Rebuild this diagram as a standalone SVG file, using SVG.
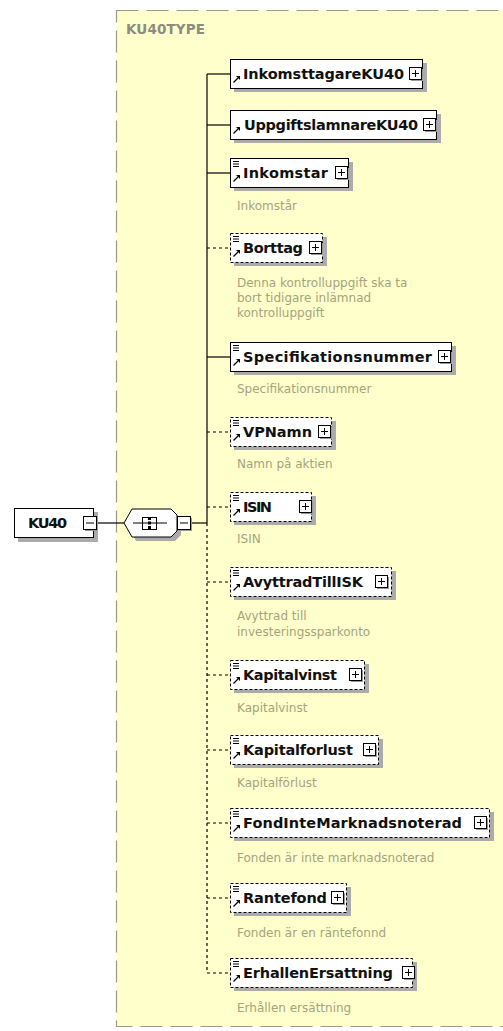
<svg xmlns="http://www.w3.org/2000/svg" xmlns:xlink="http://www.w3.org/1999/xlink" width="503" height="1031" viewBox="0 0 503 1031">
<style>
.bg{fill:#ffffff}
.cont{fill:#ffffcc;stroke:#9a9a90;stroke-width:1.2;stroke-dasharray:22,8}
.ctitle{font-family:"DejaVu Sans",sans-serif;font-weight:bold;font-size:13.5px;fill:#8c8c80}
.sh{fill:#ababab}
.box{fill:#ffffff;stroke:#000;stroke-width:1}
.opt{stroke-dasharray:3,2}
.name{font-family:"DejaVu Sans",sans-serif;font-weight:bold;font-size:14.5px;fill:#111}
.desc{font-family:"DejaVu Sans",sans-serif;font-size:12px;fill:#a4a47c}
.ln{stroke:#000;stroke-width:1.2;fill:none}
.dl{stroke:#000;stroke-width:1.2;fill:none;stroke-dasharray:3,3}
</style>
<defs>
<g id="plus">
<rect x="2" y="2" width="12" height="12" fill="#9a9a9a"/>
<rect x="0.5" y="0.5" width="12" height="12" fill="#fff" stroke="#000"/>
<line x1="3" y1="6.5" x2="10" y2="6.5" stroke="#000"/>
<line x1="6.5" y1="3" x2="6.5" y2="10" stroke="#000"/>
</g>
<g id="minus">
<rect x="2" y="2" width="13" height="13" fill="#9a9a9a"/>
<rect x="0.5" y="0.5" width="13" height="13" fill="#fff" stroke="#000"/>
<line x1="3" y1="7" x2="11" y2="7" stroke="#000"/>
</g>
<g id="eq" stroke="#000" stroke-width="1">
<line x1="0" y1="0.5" x2="6" y2="0.5"/>
<line x1="0" y1="3" x2="6" y2="3"/>
<line x1="0" y1="5.5" x2="6" y2="5.5"/>
</g>
<g id="ref">
<line x1="0.5" y1="6.5" x2="5" y2="2" stroke="#000" stroke-width="1.3"/>
<polygon points="3,0 7,0 7,4" fill="#000"/>
</g>
</defs>

<rect class="bg" x="0" y="0" width="503" height="1031"/>

<g id="KU40TYPE">
<rect class="cont" x="116.5" y="10.5" width="400" height="1016"/>
<text class="ctitle" x="126" y="34" textLength="79">KU40TYPE</text>
</g>

<g id="connectors">
<line class="ln" x1="97" y1="523" x2="124" y2="523"/>
<line class="ln" x1="191" y1="523" x2="207" y2="523"/>
<line class="ln" x1="207" y1="74" x2="207" y2="523"/>
<line class="dl" x1="207" y1="523" x2="207" y2="973"/>
<line class="ln" x1="207" y1="74" x2="230" y2="74"/>
<line class="ln" x1="207" y1="125" x2="230" y2="125"/>
<line class="ln" x1="207" y1="173" x2="230" y2="173"/>
<line class="dl" x1="207" y1="248" x2="230" y2="248"/>
<line class="ln" x1="207" y1="357" x2="230" y2="357"/>
<line class="dl" x1="207" y1="432" x2="230" y2="432"/>
<line class="dl" x1="207" y1="507" x2="230" y2="507"/>
<line class="dl" x1="207" y1="582" x2="230" y2="582"/>
<line class="dl" x1="207" y1="675" x2="230" y2="675"/>
<line class="dl" x1="207" y1="750" x2="230" y2="750"/>
<line class="dl" x1="207" y1="823" x2="230" y2="823"/>
<line class="dl" x1="207" y1="898" x2="230" y2="898"/>
<line class="dl" x1="207" y1="973" x2="230" y2="973"/>
</g>

<g id="KU40">
<rect class="sh" x="18" y="512" width="80" height="30"/>
<rect class="box" x="14.5" y="508.5" width="79" height="29"/>
<text class="name" x="28" y="528" textLength="39">KU40</text>
<use xlink:href="#minus" x="83" y="516"/>
</g>

<g id="sequence">
<path d="M128,527 L136,513 L175,513 L181,519 L181,535 L175,541 L136,541 Z" fill="#ababab"/>
<path d="M124,523 L132,509 L171,509 L177,515 L177,531 L171,537 L132,537 Z" fill="#fff" stroke="#000"/>
<line x1="133" y1="523" x2="167" y2="523" stroke="#000"/>
<rect x="142.5" y="517.5" width="14" height="12" fill="#fff" stroke="#000"/>
<line x1="142" y1="523" x2="157" y2="523" stroke="#000"/>
<rect x="148" y="517" width="3" height="3" fill="#000"/>
<rect x="148" y="521.5" width="3" height="3" fill="#000"/>
<rect x="148" y="526" width="3" height="3" fill="#000"/>
<use xlink:href="#minus" x="177" y="516"/>
</g>

<g id="InkomsttagareKU40">
<rect class="sh" x="234" y="63" width="193" height="29"/>
<rect class="box" x="230.5" y="59.5" width="192" height="29"/>
<use xlink:href="#ref" x="233" y="76"/>
<text class="name" x="243" y="79" textLength="161">InkomsttagareKU40</text>
<use xlink:href="#plus" x="409" y="67"/>
</g>

<g id="UppgiftslamnareKU40">
<rect class="sh" x="234" y="114" width="207" height="29"/>
<rect class="box" x="230.5" y="110.5" width="206" height="29"/>
<use xlink:href="#ref" x="233" y="127"/>
<text class="name" x="244" y="130" textLength="174">UppgiftslamnareKU40</text>
<use xlink:href="#plus" x="423" y="118"/>
</g>

<g id="Inkomstar">
<rect class="sh" x="234" y="162" width="119" height="29"/>
<rect class="box" x="230.5" y="158.5" width="118" height="29"/>
<use xlink:href="#eq" x="233" y="161"/>
<use xlink:href="#ref" x="233" y="175"/>
<text class="name" x="243" y="178" textLength="85">Inkomstar</text>
<use xlink:href="#plus" x="335" y="166"/>
<text class="desc" x="237" y="210">Inkomstår</text>
</g>

<g id="Borttag">
<rect class="sh" x="234" y="237" width="93" height="29"/>
<rect class="box opt" x="230.5" y="233.5" width="92" height="29"/>
<use xlink:href="#eq" x="233" y="236"/>
<use xlink:href="#ref" x="233" y="250"/>
<text class="name" x="243" y="253" textLength="60">Borttag</text>
<use xlink:href="#plus" x="309" y="241"/>
<text class="desc" x="237" y="287">Denna kontrolluppgift ska ta</text>
<text class="desc" x="237" y="302">bort tidigare inlämnad</text>
<text class="desc" x="237" y="317">kontrolluppgift</text>
</g>

<g id="Specifikationsnummer">
<rect class="sh" x="234" y="346" width="222" height="29"/>
<rect class="box" x="230.5" y="342.5" width="221" height="29"/>
<use xlink:href="#eq" x="233" y="345"/>
<use xlink:href="#ref" x="233" y="359"/>
<text class="name" x="243" y="362" textLength="189">Specifikationsnummer</text>
<use xlink:href="#plus" x="438" y="350"/>
<text class="desc" x="237" y="393">Specifikationsnummer</text>
</g>

<g id="VPNamn">
<rect class="sh" x="234" y="421" width="102" height="29"/>
<rect class="box opt" x="230.5" y="417.5" width="101" height="29"/>
<use xlink:href="#eq" x="233" y="420"/>
<use xlink:href="#ref" x="233" y="434"/>
<text class="name" x="243" y="437" textLength="69">VPNamn</text>
<use xlink:href="#plus" x="318" y="425"/>
<text class="desc" x="237" y="468">Namn på aktien</text>
</g>

<g id="ISIN">
<rect class="sh" x="234" y="496" width="82" height="29"/>
<rect class="box opt" x="230.5" y="492.5" width="81" height="29"/>
<use xlink:href="#eq" x="233" y="495"/>
<use xlink:href="#ref" x="233" y="509"/>
<text class="name" x="243" y="512" textLength="29">ISIN</text>
<use xlink:href="#plus" x="299" y="500"/>
<text class="desc" x="237" y="543">ISIN</text>
</g>

<g id="AvyttradTillISK">
<rect class="sh" x="234" y="571" width="162" height="29"/>
<rect class="box opt" x="230.5" y="567.5" width="161" height="29"/>
<use xlink:href="#eq" x="233" y="570"/>
<use xlink:href="#ref" x="233" y="584"/>
<text class="name" x="243" y="587" textLength="120">AvyttradTillISK</text>
<use xlink:href="#plus" x="375" y="575"/>
<text class="desc" x="237" y="620">Avyttrad till</text>
<text class="desc" x="237" y="636">investeringssparkonto</text>
</g>

<g id="Kapitalvinst">
<rect class="sh" x="234" y="664" width="135" height="29"/>
<rect class="box opt" x="230.5" y="660.5" width="134" height="29"/>
<use xlink:href="#eq" x="233" y="663"/>
<use xlink:href="#ref" x="233" y="677"/>
<text class="name" x="243" y="680" textLength="94">Kapitalvinst</text>
<use xlink:href="#plus" x="349" y="668"/>
<text class="desc" x="237" y="712">Kapitalvinst</text>
</g>

<g id="Kapitalforlust">
<rect class="sh" x="234" y="739" width="149" height="29"/>
<rect class="box opt" x="230.5" y="735.5" width="148" height="29"/>
<use xlink:href="#eq" x="233" y="738"/>
<use xlink:href="#ref" x="233" y="752"/>
<text class="name" x="243" y="755" textLength="110">Kapitalforlust</text>
<use xlink:href="#plus" x="363" y="743"/>
<text class="desc" x="237" y="787">Kapitalförlust</text>
</g>

<g id="FondInteMarknadsnoterad">
<rect class="sh" x="234" y="812" width="260" height="29"/>
<rect class="box opt" x="230.5" y="808.5" width="259" height="29"/>
<use xlink:href="#eq" x="233" y="811"/>
<use xlink:href="#ref" x="233" y="825"/>
<text class="name" x="243" y="828" textLength="219">FondInteMarknadsnoterad</text>
<use xlink:href="#plus" x="474" y="816"/>
<text class="desc" x="237" y="862">Fonden är inte marknadsnoterad</text>
</g>

<g id="Rantefond">
<rect class="sh" x="234" y="887" width="117" height="29"/>
<rect class="box opt" x="230.5" y="883.5" width="116" height="29"/>
<use xlink:href="#eq" x="233" y="886"/>
<use xlink:href="#ref" x="233" y="900"/>
<text class="name" x="243" y="903" textLength="84">Rantefond</text>
<use xlink:href="#plus" x="331" y="891"/>
<text class="desc" x="237" y="937">Fonden är en räntefonnd</text>
</g>

<g id="ErhallenErsattning">
<rect class="sh" x="234" y="962" width="183" height="29"/>
<rect class="box opt" x="230.5" y="958.5" width="182" height="29"/>
<use xlink:href="#eq" x="233" y="961"/>
<use xlink:href="#ref" x="233" y="975"/>
<text class="name" x="243" y="978" textLength="150">ErhallenErsattning</text>
<use xlink:href="#plus" x="402" y="966"/>
<text class="desc" x="237" y="1012">Erhållen ersättning</text>
</g>
</svg>
